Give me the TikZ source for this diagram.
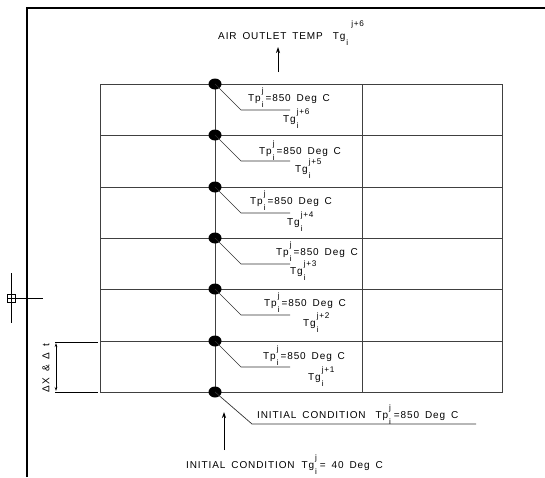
\documentclass[tikz,border=0pt]{standalone}
\usepackage{fontspec}
\setmainfont{Liberation Sans}[LetterSpace=9, WordSpace=1.6]
\usetikzlibrary{arrows.meta,shapes.geometric}
\newcommand{\smallfs}{\fontsize{8.2}{9}\selectfont}
\newcommand{\ssx}[2]{\kern1pt\rlap{\raisebox{8pt}{\smallfs #1}}\raisebox{-5.5pt}{\smallfs #2}}
\newcommand{\TPtext}{Tp\ssx{j}{i}\kern2pt=850 Deg C}
\newcommand{\TGtext}[1]{Tg\ssx{j+#1}{i}}
\begin{document}
\begin{tikzpicture}[x=1pt,y=-1pt,
  frame/.style={draw=black,line width=1.1pt},
  gridline/.style={draw=black!75,line width=0.9pt},
  dotnode/.style={ellipse,fill=black,minimum width=13pt,minimum height=11pt,inner sep=0pt},
  lead/.style={draw=black!80,line width=0.7pt},
  arr/.style={-{Stealth[length=6pt,width=4pt]},line width=0.8pt},
  dim/.style={{Stealth[length=4pt,width=2.5pt]}-{Stealth[length=4pt,width=2.5pt]},line width=0.7pt},
  lbl/.style={inner sep=0pt,anchor=base west,font=\fontsize{10}{12}\selectfont}]
\useasboundingbox (0,0) rectangle (545,477);
% frame
\coordinate (fb) at (27,477);
\coordinate (ftl) at (27,8);
\coordinate (fr) at (545,8);
\draw[frame] (fb) -- (ftl) -- (fr);
% grid
\coordinate (gtl) at (100,84);
\coordinate (gbr) at (502,392);
\draw[gridline] (gtl) rectangle (gbr);
\foreach \y in {135,187,238,289,341}{
  \coordinate (hl\y) at (100,\y);
  \coordinate (hr\y) at (502,\y);
  \draw[gridline] (hl\y) -- (hr\y);
}
\coordinate (vt) at (362,84);
\coordinate (vb) at (362,392);
\draw[gridline] (vt) -- (vb);
% spine with dots
\coordinate (c0) at (215,392);
\coordinate (c6) at (215,84);
\draw[gridline] (c0) -- (c6);
\foreach \i/\y in {0/392,1/341,2/289,3/238,4/187,5/135,6/84}{
  \node[dotnode] (d\i) at (215,\y) {};
}
% leaders
\foreach \i in {1,...,6}{
  \draw[lead] (d\i.center) -- ++(26,26) -- ++(49,0);
}
\draw[lead] (d0.center) -- ++(37,32) -- ++(224,0);
% row labels
\node[lbl] (tp6) at (248,101.5) {\TPtext};
\node[lbl] (tg6) at (283,122.5) {\TGtext{6}};
\node[lbl] (tp5) at (259,154.5) {\TPtext};
\node[lbl] (tg5) at (295,172.5) {\TGtext{5}};
\node[lbl] (tp4) at (250,204.5) {\TPtext};
\node[lbl] (tg4) at (287,225.5) {\TGtext{4}};
\node[lbl] (tp3) at (276,255.5) {\TPtext};
\node[lbl] (tg3) at (290,274.5) {\TGtext{3}};
\node[lbl] (tp2) at (264,306.5) {\TPtext};
\node[lbl] (tg2) at (303,326.5) {\TGtext{2}};
\node[lbl] (tp1) at (263,359.5) {\TPtext};
\node[lbl] (tg1) at (308,380.5) {\TGtext{1}};
% bottom labels
\node[lbl] (ic1) at (257,418.5) {INITIAL CONDITION\hspace{4pt} Tp\ssx{j}{i}\kern3pt=850 Deg C};
\node[lbl] (ic2) at (186,468.5) {INITIAL CONDITION\hspace{1pt} Tg\ssx{j}{i}\kern3pt= 40 Deg C};
% top label
\node[lbl] (top) at (218,39.5) {AIR OUTLET TEMP\hspace{4pt} Tg\kern1pt\rlap{\raisebox{-6pt}{\smallfs i}}\kern5pt\raisebox{13pt}{\smallfs j+6}};
% arrows
\coordinate (ta0) at (278,72);
\coordinate (ta1) at (278,47);
\draw[arr] (ta0) -- (ta1);
\coordinate (ba0) at (224,450);
\coordinate (ba1) at (224,412);
\draw[arr] (ba0) -- (ba1);
% left cross mark
\coordinate (xv0) at (11,273);
\coordinate (xv1) at (11,323);
\coordinate (xh0) at (7,298);
\coordinate (xh1) at (43,298);
\draw[line width=0.8pt] (xv0) -- (xv1);
\draw[line width=0.8pt] (xh0) -- (xh1);
\draw[line width=0.8pt] (7,294) rectangle (15,302);
% dimension
\coordinate (e0a) at (55,342);
\coordinate (e0b) at (98,342);
\coordinate (e1a) at (55,392);
\coordinate (e1b) at (98,392);
\draw[line width=0.8pt] (e0a) -- (e0b);
\draw[line width=0.8pt] (e1a) -- (e1b);
\coordinate (dm0) at (56,343);
\coordinate (dm1) at (56,391);
\draw[dim] (dm0) -- (dm1);
\node[rotate=90,inner sep=0pt,font=\fontsize{10}{12}\selectfont] (dimlbl) at (46,368) {ΔX \& Δ t};
\end{tikzpicture}
\end{document}
